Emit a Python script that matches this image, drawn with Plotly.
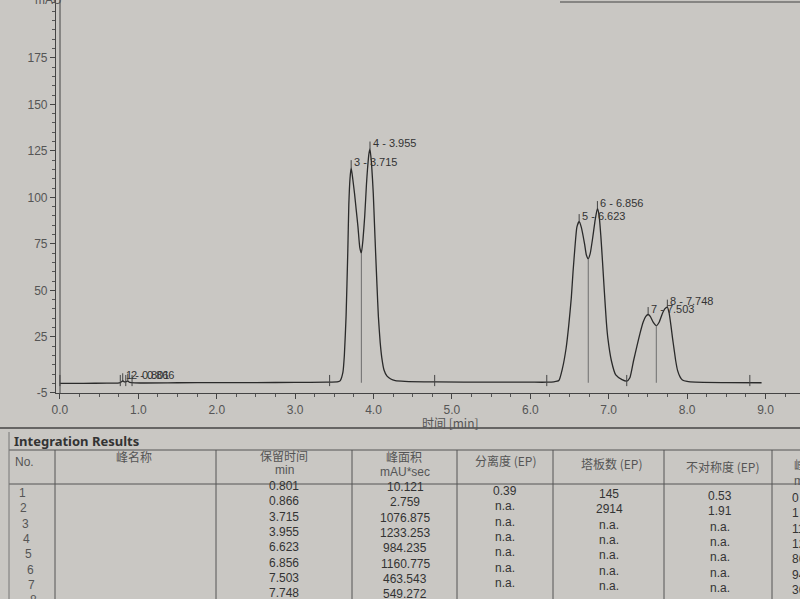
import plotly.graph_objects as go

# chromatogram: retention time (min) and signal (mAU)
time_min = [0.00, 0.30, 0.60, 0.76, 0.79, 0.801, 0.82, 0.845, 0.866, 0.89, 0.95,
            1.50, 2.00, 2.50, 3.00, 3.40, 3.55, 3.576, 3.61, 3.628, 3.65, 3.672,
            3.685, 3.70, 3.715, 3.735, 3.758, 3.78, 3.802, 3.825, 3.845, 3.865,
            3.888, 3.91, 3.923, 3.94, 3.955, 3.975, 3.997, 4.012, 4.027, 4.045,
            4.062, 4.085, 4.105, 4.135, 4.17, 4.22, 4.278, 4.40, 4.80, 5.50,
            6.00, 6.21, 6.30, 6.364, 6.41, 6.457, 6.49, 6.523, 6.545, 6.569,
            6.594, 6.623, 6.65, 6.692, 6.715, 6.739, 6.765, 6.795, 6.828, 6.856,
            6.878, 6.90, 6.92, 6.945, 6.97, 6.99, 7.035, 7.09, 7.17, 7.23, 7.27,
            7.316, 7.36, 7.40, 7.44, 7.473, 7.503, 7.53, 7.565, 7.607, 7.645,
            7.68, 7.715, 7.748, 7.77, 7.794, 7.815, 7.835, 7.855, 7.878, 7.91,
            7.94, 8.00, 8.107, 8.50, 8.95]
signal_mau = [0.0, 0.0, 0.1, 0.2, 1.0, 1.4, 0.8, 0.9, 1.2, 0.5, 0.2,
              0.3, 0.4, 0.4, 0.5, 0.6, 0.9, 1.5, 6, 15, 36, 71,
              96, 110, 116, 110, 102, 93, 84, 73, 70, 77,
              90, 107, 115, 123, 126, 118, 102, 86, 70, 52,
              36, 22, 14, 7, 4, 2.3, 1.5, 1.1, 0.8, 0.6,
              0.6, 0.6, 0.8, 1.5, 8, 19, 31, 46, 60, 73,
              84, 87, 84, 75, 69, 67, 70, 78, 88, 94,
              90, 79, 66, 49, 33, 24, 12, 4.5, 2, 1.2, 3,
              12, 20, 27, 33, 36, 37, 36, 33, 31, 33,
              37, 40, 41, 38, 31, 24, 18, 12, 7, 3.5,
              1.8, 1.0, 0.6, 0.4, 0.3]

# integration results table
peak_no = [1, 2, 3, 4, 5, 6, 7, 8]
ret_time = [0.801, 0.866, 3.715, 3.955, 6.623, 6.856, 7.503, 7.748]
peak_area = ["10.121", "2.759", "1076.875", "1233.253", "984.235",
             "1160.775", "463.543", "549.272"]
resolution = ["0.39", "n.a.", "n.a.", "n.a.", "n.a.", "n.a.", "n.a."]
plates = ["145", "2914", "n.a.", "n.a.", "n.a.", "n.a.", "n.a."]
asymmetry = ["0.53", "1.91", "n.a.", "n.a.", "n.a.", "n.a.", "n.a."]
height_cut = ["0", "1", "11", "12", "86", "94", "36"]  # cut off at the photo edge

valley_time = [3.845, 6.739, 7.607]
event_time = [0.0, 0.77, 0.84, 0.92, 3.44, 4.78, 6.21, 7.23, 8.80]
y_tick_vals = [-5, 25, 50, 75, 100, 125, 150, 175]
y_tick_text = ["-5", "25", "50", "75", "100", "125", "150", "175"]

W, H = 800, 599
BG = "#c9c7c3"
INK = "#333333"
NUM_FONT = "Liberation Sans, Arial, sans-serif"
CJK_FONT = "Noto Sans CJK SC, sans-serif"


def px(x):
    return x / W


def py(y):
    return 1 - y / H


sig = dict(zip(time_min, signal_mau))

fig = go.Figure()

fig.add_trace(go.Scatter(
    x=time_min, y=signal_mau, mode="lines",
    line=dict(color="#2a2a2a", width=1.3, shape="spline", smoothing=0.5),
    hoverinfo="skip", showlegend=False,
))

# drop lines at the valleys
dx, dy = [], []
for t in valley_time:
    dx += [t, t, None]
    dy += [0.3, sig[t], None]
fig.add_trace(go.Scatter(x=dx, y=dy, mode="lines",
                         line=dict(color="#6e6e6e", width=1),
                         hoverinfo="skip", showlegend=False))

# integration event marks on the baseline
ex, ey = [], []
for t in event_time:
    ex += [t, t, None]
    ey += [-1.5, 4.5, None]
fig.add_trace(go.Scatter(x=ex, y=ey, mode="lines",
                         line=dict(color="#444", width=1),
                         hoverinfo="skip", showlegend=False))

# apex ticks and peak labels
ax, ay = [], []
for n, t in zip(peak_no, ret_time):
    h = sig[t]
    ax += [t, t, None]
    ay += [h, h + 4, None]
    fig.add_annotation(x=t, y=h, text=f"{n} - {t:.3f}", showarrow=False,
                       xanchor="left", yanchor="bottom", xshift=1, yshift=-2,
                       font=dict(family=NUM_FONT, size=11, color=INK))
fig.add_trace(go.Scatter(x=ax, y=ay, mode="lines",
                         line=dict(color="#444", width=1),
                         hoverinfo="skip", showlegend=False))

# axis captions
fig.add_annotation(xref="paper", yref="paper", x=px(48), y=py(0),
                   text="mAU", showarrow=False, xanchor="center", yanchor="middle",
                   font=dict(family=NUM_FONT, size=12, color="#555"))
fig.add_annotation(xref="paper", yref="paper", x=px(450), y=py(422),
                   text="时间 [min]", showarrow=False, xanchor="center", yanchor="middle",
                   font=dict(family=CJK_FONT, size=12, color="#555"))

shapes = []


def hline(y, x0, x1, w=1, c="#555"):
    shapes.append(dict(type="line", xref="paper", yref="paper",
                       x0=px(x0), x1=px(x1), y0=py(y), y1=py(y),
                       line=dict(color=c, width=w)))


def vline(x, y0, y1, w=1, c="#555"):
    shapes.append(dict(type="line", xref="paper", yref="paper",
                       x0=px(x), x1=px(x), y0=py(y0), y1=py(y1),
                       line=dict(color=c, width=w)))


# frame bits of the printout
vline(60, 0, 393, 1, "#444")
hline(2, 560, 800, 1.2, "#444")

# table grid
hline(428, 0, 800, 1.6, "#444")
hline(450, 9, 800, 1, "#555")
hline(484, 9, 800, 1, "#555")
vline(9, 432, 599, 1, "#777")
for x in [55, 216, 352, 457, 553, 664, 772]:
    vline(x, 450, 599, 1, "#555")


def txt(x, y, s, size=12, family=NUM_FONT, anchor="center", bold=False, color=INK):
    if bold:
        s = f"<b>{s}</b>"
    fig.add_annotation(xref="paper", yref="paper", x=px(x), y=py(y), text=s,
                       showarrow=False, xanchor=anchor, yanchor="middle",
                       font=dict(family=family, size=size, color=color))


txt(12, 441, "Integration Results", size=13, family="Noto Sans, sans-serif",
    anchor="left", bold=True)
txt(13, 462, "No.", anchor="left", color="#555")
txt(134, 457, "峰名称", family=CJK_FONT, color="#555")
txt(284, 455, "保留时间", family=CJK_FONT, color="#555")
txt(284, 470, "min", color="#555")
txt(404, 456, "峰面积", family=CJK_FONT, color="#555")
txt(405, 472, "mAU*sec", color="#555")
txt(506, 460, "分离度 (EP)", family=CJK_FONT, color="#555")
txt(611, 463, "塔板数 (EP)", family=CJK_FONT, color="#555")
txt(722, 466, "不对称度 (EP)", family=CJK_FONT, color="#555")
txt(792, 464, "峰高", family=CJK_FONT, anchor="left", color="#555")
txt(792, 481, "mAU", anchor="left", color="#555")

row0, step = 486, 15.3
for i, n in enumerate(peak_no):
    y = row0 + i * step
    txt(22 + i * 1.6, y + 7, str(n), color="#555")
    txt(284, y, f"{ret_time[i]:.3f}")
    txt(405, y + 1, peak_area[i])
for i in range(len(resolution)):
    y = row0 + i * step
    txt(505, y + 5, resolution[i])
    txt(609, y + 8, plates[i])
    txt(720, y + 10, asymmetry[i])
    txt(790, y + 12, height_cut[i], anchor="left")

fig.update_layout(
    width=W, height=H,
    margin=dict(l=0, r=0, t=0, b=0),
    paper_bgcolor=BG, plot_bgcolor=BG,
    showlegend=False,
    shapes=shapes,
    xaxis=dict(
        domain=[px(56), 1], range=[-0.05, 9.44],
        dtick=1, tick0=0, tickformat=".1f",
        ticks="outside", ticklen=5, tickcolor="#444",
        minor=dict(dtick=0.25, tick0=0, ticks="outside", ticklen=3, tickcolor="#555"),
        showline=True, linecolor="#444", linewidth=1.2,
        showgrid=False, zeroline=False, automargin=False,
        tickfont=dict(family=NUM_FONT, size=12, color="#555"),
    ),
    yaxis=dict(
        domain=[py(393), 1], range=[-5.2, 206.1],
        tickmode="array", tickvals=y_tick_vals, ticktext=y_tick_text,
        ticks="outside", ticklen=5, tickcolor="#444",
        minor=dict(dtick=5, tick0=0, ticks="outside", ticklen=3, tickcolor="#555"),
        showline=True, linecolor="#444", linewidth=1.2,
        showgrid=False, zeroline=False, automargin=False,
        tickfont=dict(family=NUM_FONT, size=12, color="#555"),
    ),
)

# the page's default body margin would shift the figure by 8px
fig.write_html("out.html", config={"displayModeBar": False},
               post_script="document.body.style.margin='0';")
